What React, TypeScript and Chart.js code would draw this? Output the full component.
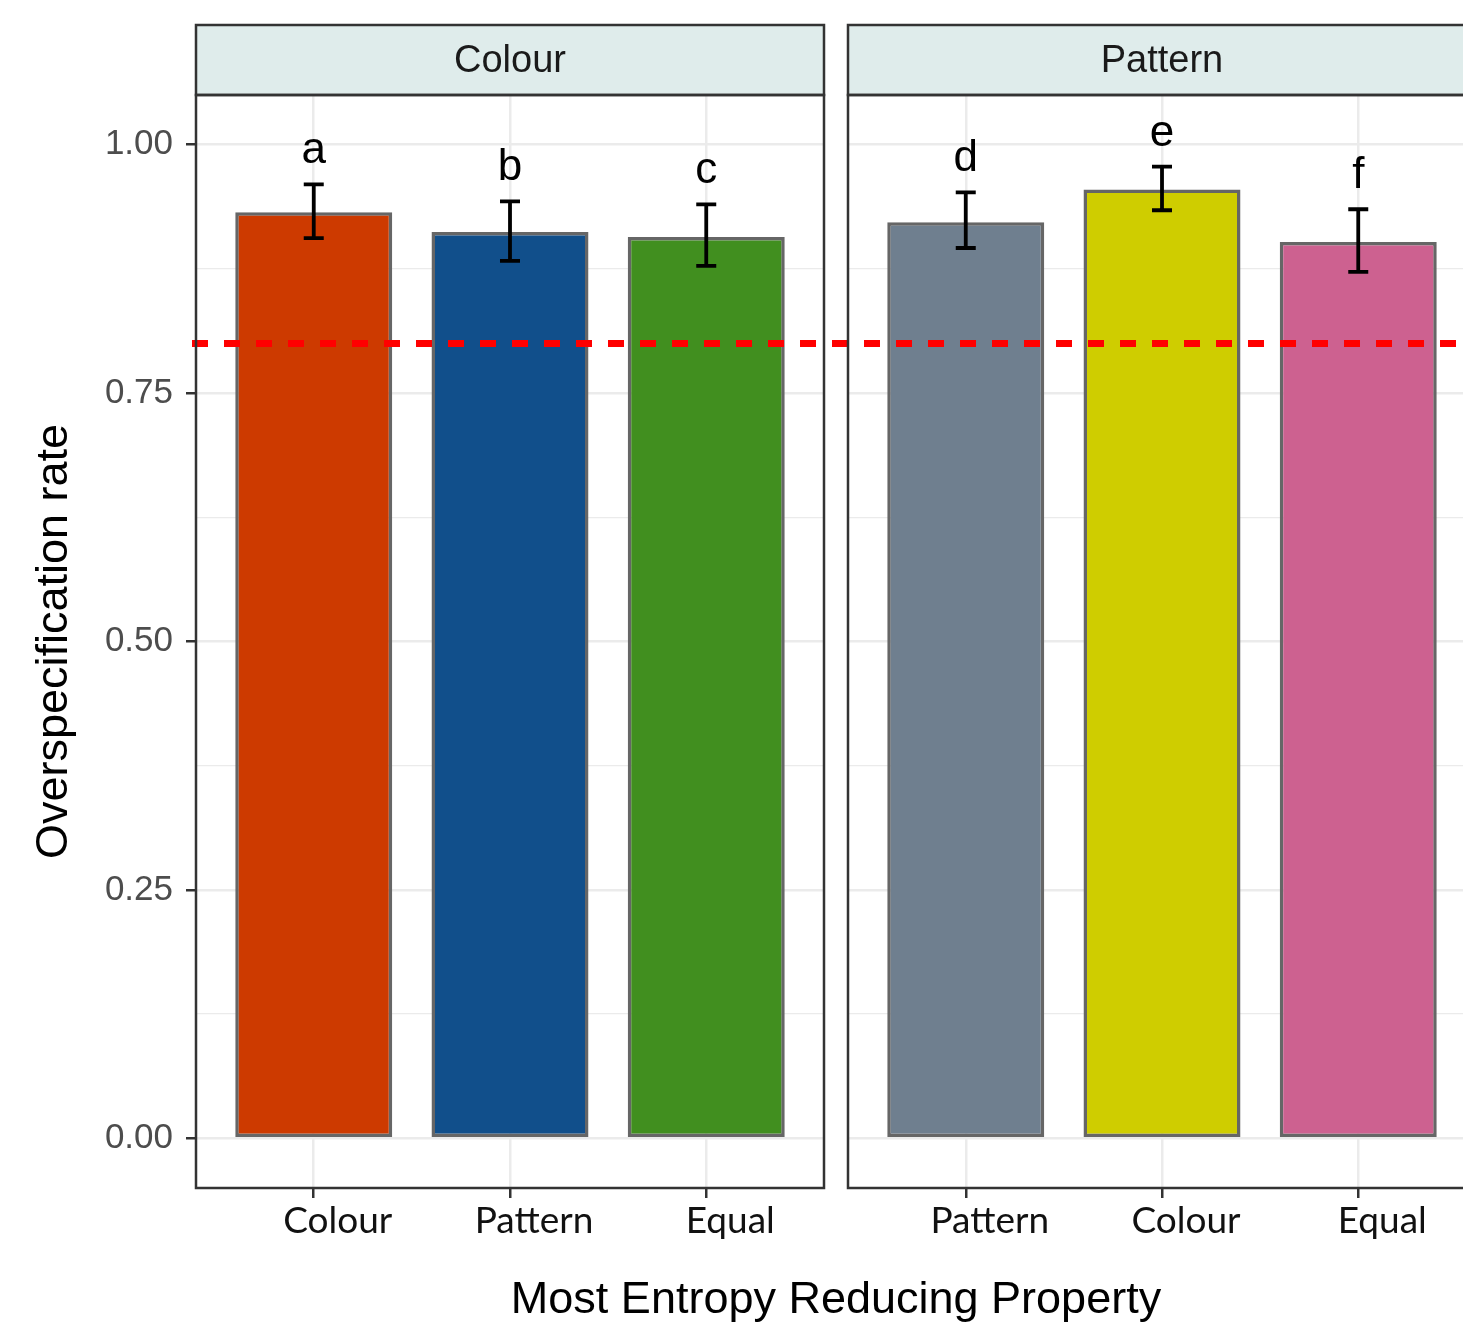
import React, { useEffect, useRef } from 'react';
import { Chart, registerables } from 'chart.js';

Chart.register(...registerables);

// Facets and the categories shown in each
const facetNames = ['Colour', 'Pattern'];
const colourFacetCategories = ['Colour', 'Pattern', 'Equal'];
const patternFacetCategories = ['Pattern', 'Colour', 'Equal'];

// Overspecification rate per bar (Colour facet first, then Pattern facet)
const overspecRates = [0.932, 0.912, 0.907, 0.922, 0.955, 0.902];
const ciLower = [0.906, 0.883, 0.878, 0.896, 0.934, 0.872];
const ciUpper = [0.96, 0.943, 0.94, 0.952, 0.978, 0.935];
const groupLetters = ['a', 'b', 'c', 'd', 'e', 'f'];
const barColours = ['#CD3A00', '#114F8B', '#418F1F', '#6F7F8F', '#CFCD00', '#CD6190'];

// Reference rate drawn as a dashed line
const referenceRate = 0.8;

// Y axis ticks (major labelled, minor unlabelled)
const yTickValues = [0, 0.125, 0.25, 0.375, 0.5, 0.625, 0.75, 0.875, 1];
const yTickLabels = ['0.00', '', '0.25', '', '0.50', '', '0.75', '', '1.00'];

const xTitle = 'Most Entropy Reducing Property';
const yTitle = 'Overspecification rate';

// Facet geometry in category units: 3 categories + 0.6 padding on each side
const PANEL_SPAN = 3.2;
const PANEL_GAP = 0.1223;
const categoryLabels = [...colourFacetCategories, ...patternFacetCategories];
const xPositions = categoryLabels.map((_, i) => {
  const panel = Math.floor(i / 3);
  return panel * (PANEL_SPAN + PANEL_GAP) + 0.6 + (i % 3);
});
const X_MAX = 2 * PANEL_SPAN + PANEL_GAP;

const STRIP_TOP = 25;

const facetPlugin = {
  id: 'facetDecor',
  beforeDatasetsDraw(chart: any) {
    const { ctx, chartArea, scales } = chart;
    const x = scales.x;
    const l = x.getPixelForValue(PANEL_SPAN);
    const r = x.getPixelForValue(PANEL_SPAN + PANEL_GAP);
    ctx.save();
    ctx.fillStyle = '#FFFFFF';
    ctx.fillRect(l, chartArea.top - 2, r - l, chartArea.bottom - chartArea.top + 4);
    ctx.restore();
  },
  afterDatasetsDraw(chart: any) {
    const { ctx, scales, width } = chart;
    const x = scales.x;
    const y = scales.y;
    ctx.save();
    // dashed reference line spanning both facets
    const yRef = y.getPixelForValue(referenceRate);
    ctx.strokeStyle = '#FF0000';
    ctx.lineWidth = 7;
    ctx.setLineDash([16, 16]);
    ctx.beginPath();
    ctx.moveTo(192, yRef);
    ctx.lineTo(width, yRef);
    ctx.stroke();
    ctx.setLineDash([]);

    // error bars
    ctx.strokeStyle = '#000000';
    ctx.lineWidth = 3.8;
    const cap = 10;
    xPositions.forEach((xv, i) => {
      const cx = x.getPixelForValue(xv);
      const yl = y.getPixelForValue(ciLower[i]);
      const yu = y.getPixelForValue(ciUpper[i]);
      ctx.beginPath();
      ctx.moveTo(cx, yl);
      ctx.lineTo(cx, yu);
      ctx.moveTo(cx - cap, yl);
      ctx.lineTo(cx + cap, yl);
      ctx.moveTo(cx - cap, yu);
      ctx.lineTo(cx + cap, yu);
      ctx.stroke();
    });

    // group letters above the error bars
    ctx.fillStyle = '#000000';
    ctx.font = '44px "Liberation Sans", Arial, sans-serif';
    ctx.textAlign = 'center';
    ctx.textBaseline = 'alphabetic';
    xPositions.forEach((xv, i) => {
      const cx = x.getPixelForValue(xv);
      const yu = y.getPixelForValue(ciUpper[i]);
      ctx.fillText(groupLetters[i], cx, yu - 21);
    });
    ctx.restore();
  },
  afterDraw(chart: any) {
    const { ctx, chartArea, scales } = chart;
    const x = scales.x;
    ctx.save();
    facetNames.forEach((name, p) => {
      const start = p * (PANEL_SPAN + PANEL_GAP);
      const l = x.getPixelForValue(start);
      const r = x.getPixelForValue(start + PANEL_SPAN);
      // strip
      ctx.fillStyle = '#DFECEB';
      ctx.fillRect(l, STRIP_TOP, r - l, chartArea.top - STRIP_TOP);
      ctx.strokeStyle = '#333333';
      ctx.lineWidth = 2.5;
      ctx.strokeRect(l, STRIP_TOP, r - l, chartArea.top - STRIP_TOP);
      ctx.fillStyle = '#1A1A1A';
      ctx.font = '38px "Liberation Sans", Arial, sans-serif';
      ctx.textAlign = 'center';
      ctx.textBaseline = 'middle';
      ctx.fillText(name, (l + r) / 2, (STRIP_TOP + chartArea.top) / 2 + 2);
      // panel border
      ctx.strokeRect(l, chartArea.top, r - l, chartArea.bottom - chartArea.top);
    });
    ctx.restore();
  },
};

export default function App() {
  const canvasRef = useRef<HTMLCanvasElement | null>(null);

  useEffect(() => {
    if (!canvasRef.current) return;
    const chart = new Chart(canvasRef.current, {
      type: 'bar',
      data: {
        datasets: [
          {
            data: xPositions.map((xv, i) => ({ x: xv, y: overspecRates[i] })),
            backgroundColor: barColours,
            borderColor: '#666666',
            borderWidth: 3.5,
            borderSkipped: false,
            barPercentage: 0.8,
            categoryPercentage: 1,
          },
        ],
      },
      options: {
        animation: false,
        responsive: false,
        devicePixelRatio: 1,
        layout: { padding: { top: 95, left: 0, right: 4, bottom: 0 } },
        plugins: {
          legend: { display: false },
          tooltip: { enabled: false },
        },
        scales: {
          x: {
            type: 'linear',
            min: 0,
            max: X_MAX,
            offset: false,
            afterBuildTicks: (scale: any) => {
              scale.ticks = xPositions.map((v) => ({ value: v }));
            },
            afterFit: (scale: any) => {
              scale.height = 137;
            },
            ticks: {
              autoSkip: false,
              maxRotation: 0,
              minRotation: 0,
              padding: 1,
              labelOffset: 24,
              color: '#111111',
              font: { family: 'Lato, "Noto Sans", sans-serif', size: 37 },
              callback: (_v: any, i: number) => categoryLabels[i],
            },
            grid: {
              offset: false,
              color: '#EBEBEB',
              lineWidth: 2.5,
              tickColor: '#333333',
              tickWidth: 2.5,
              tickLength: 10,
            },
            border: { display: false },
            title: {
              display: true,
              text: xTitle,
              color: '#000000',
              font: { family: '"Liberation Sans", Arial, sans-serif', size: 45 },
              padding: { top: 0, bottom: -3 },
            },
          },
          y: {
            type: 'linear',
            min: -0.05,
            max: 1.05,
            afterBuildTicks: (scale: any) => {
              scale.ticks = yTickValues.map((v) => ({ value: v }));
            },
            afterFit: (scale: any) => {
              scale.width = 196;
            },
            ticks: {
              autoSkip: false,
              padding: 13,
              color: '#4D4D4D',
              font: { family: '"Liberation Sans", Arial, sans-serif', size: 35 },
              callback: (_v: any, i: number) => yTickLabels[i],
            },
            grid: {
              color: '#EBEBEB',
              lineWidth: (ctx: any) => (ctx.index % 2 === 0 ? 2.5 : 1.25),
              tickColor: (ctx: any) => (ctx.index % 2 === 0 ? '#333333' : 'rgba(0,0,0,0)'),
              tickWidth: 2.5,
              tickLength: 10,
            },
            border: { display: false },
            title: {
              display: true,
              text: yTitle,
              color: '#000000',
              font: { family: '"Liberation Sans", Arial, sans-serif', size: 45 },
              padding: { top: 28, bottom: 0 },
            },
          },
        },
      },
      plugins: [facetPlugin],
    });
    return () => chart.destroy();
  }, []);

  return (
    <div
      style={{
        position: 'fixed',
        left: 0,
        top: 0,
        width: 1463,
        height: 1325,
        overflow: 'hidden',
        background: '#FFFFFF',
      }}
    >
      <canvas ref={canvasRef} width={1480} height={1325} style={{ display: 'block', width: 1480, height: 1325 }} />
    </div>
  );
}
